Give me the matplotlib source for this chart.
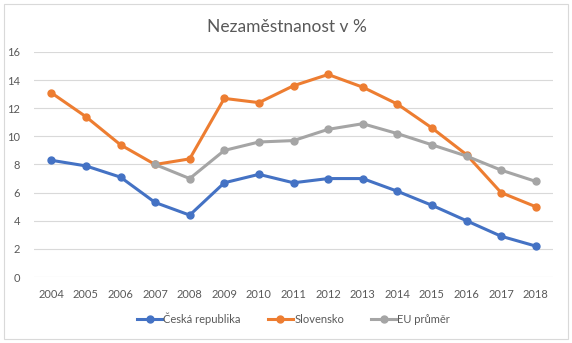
import matplotlib.pyplot as plt
from matplotlib.patches import Rectangle

plt.rcParams['font.family'] = ['Lato', 'DejaVu Sans']

years = ['2004', '2005', '2006', '2007', '2008', '2009', '2010', '2011',
         '2012', '2013', '2014', '2015', '2016', '2017', '2018']
cz = [8.3, 7.9, 7.1, 5.3, 4.4, 6.7, 7.3, 6.7, 7.0, 7.0, 6.1, 5.1, 4.0, 2.9, 2.2]
sk = [13.1, 11.4, 9.4, 8.0, 8.4, 12.7, 12.4, 13.6, 14.4, 13.5, 12.3, 10.6, 8.7, 6.0, 5.0]
eu_years = years[3:]
eu = [8.0, 7.0, 9.0, 9.6, 9.7, 10.5, 10.9, 10.2, 9.4, 8.6, 7.6, 6.8]

fig = plt.figure(figsize=(5.72, 3.43), dpi=100)
ax = fig.add_axes([34 / 572, 1 - 277 / 343, 519 / 572, 225 / 343])

x = list(range(len(years)))
x_eu = [years.index(y) for y in eu_years]
ax.plot(x, cz, color='#4472C4', lw=2.2, marker='o', ms=5, label='Česká republika')
ax.plot(x, sk, color='#ED7D31', lw=2.2, marker='o', ms=5, label='Slovensko')
ax.plot(x_eu, eu, color='#A5A5A5', lw=2.2, marker='o', ms=5, label='EU průměr')

ax.set_xlim(-0.5, len(years) - 0.5)
ax.set_ylim(0, 16)
ax.set_yticks(range(0, 17, 2))
ax.set_xticks(x)
ax.set_xticklabels(years)
ax.grid(axis='y', color='#D9D9D9', lw=0.8)
ax.set_axisbelow(True)
for s in ax.spines.values():
    s.set_visible(False)
ax.tick_params(length=0, labelsize=8, colors='#595959', pad=9)
ax.tick_params(axis='y', pad=10)

fig.text(287 / 572, 1 - 27 / 343, 'Nezaměstnanost v %', ha='center', va='center',
         fontsize=12.5, color='#595959')

ax.legend(loc='center', bbox_to_anchor=(0.5, -0.185), ncol=3, frameon=False,
          fontsize=8, labelcolor='#595959', handlelength=2.3, handletextpad=0.1,
          columnspacing=2.4)

fig.add_artist(Rectangle((3.5 / 572, 1 - 339 / 343), 564.5 / 572, 335.5 / 343,
                         transform=fig.transFigure, fill=False, ec='#D9D9D9', lw=0.8))

fig.savefig('out.png', dpi=100)
